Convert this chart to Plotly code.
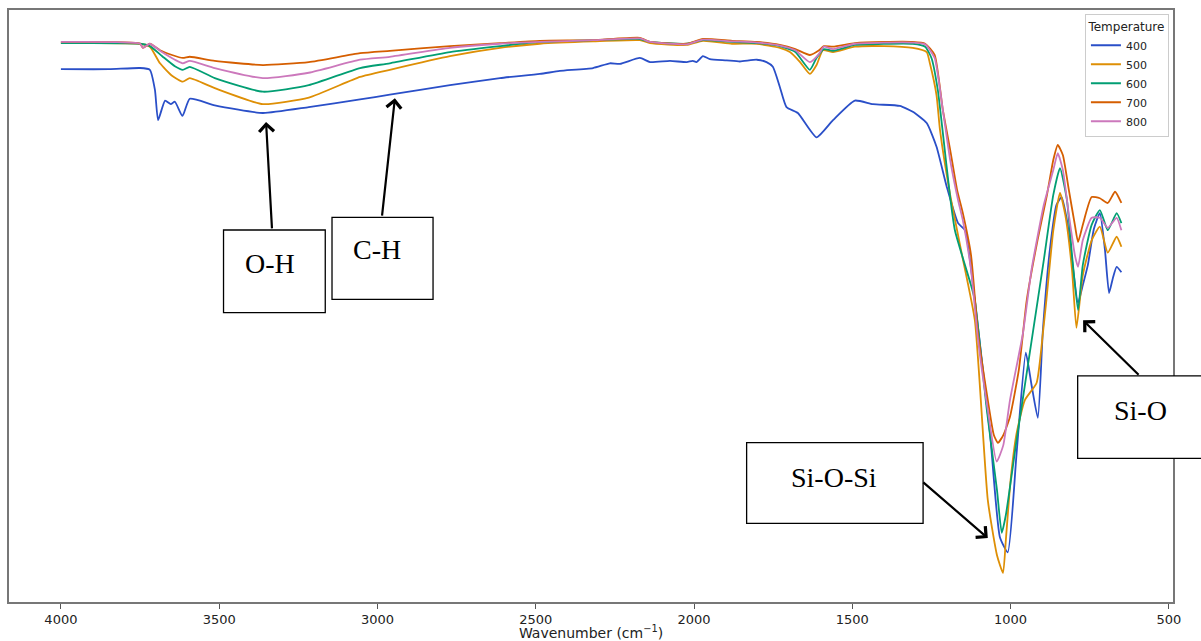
import plotly.graph_objects as go

# ---- data: wavenumber (cm^-1) and transmittance-like values (arbitrary %)
wn_400 = [4000, 3848, 3750, 3719, 3703, 3693, 3671, 3653, 3640, 3616, 3593, 3514, 3362, 3217,
          3055, 2961, 2771, 2613, 2487, 2424, 2319, 2266, 2234, 2171, 2139, 2076, 2023, 2004,
          1992, 1972, 1950, 1897, 1855, 1802, 1771, 1751, 1729, 1708, 1672, 1613, 1561, 1492,
          1435, 1350, 1309, 1265, 1234, 1202, 1166, 1144, 1113, 1065, 1034, 1009, 981, 952,
          934, 914, 898, 876, 855, 839, 822, 806, 787, 772, 756, 737, 718, 702, 689, 677, 665, 650]
t_400 = [90.0, 90.0, 90.2, 89.9, 86.5, 81.4, 84.7, 84.1, 84.5, 82.1, 85.0, 83.9, 82.6, 83.6,
         84.9, 85.7, 87.3, 88.5, 89.2, 89.7, 90.2, 91.0, 90.9, 91.9, 91.2, 91.4, 91.2, 91.4,
         91.2, 92.2, 91.7, 91.5, 91.3, 91.6, 91.2, 90.4, 87.0, 83.6, 82.6, 78.5, 81.4, 84.7,
         84.1, 83.8, 82.8, 80.9, 76.9, 70.2, 64.0, 62.8, 51.0, 28.5, 11.0, 8.4, 25.2, 42.1,
         36.7, 31.1, 45.9, 59.5, 67.1, 68.4, 64.5, 57.8, 50.5, 53.5, 56.9, 63.0, 65.7, 59.5,
         52.2, 54.7, 56.6, 55.7]

wn_500 = [4000, 3750, 3719, 3687, 3649, 3615, 3593, 3514, 3362, 3217, 3055, 2961, 2771, 2613,
          2487, 2319, 2171, 2139, 2023, 1972, 1880, 1802, 1729, 1697, 1665, 1634, 1613, 1593,
          1561, 1492, 1400, 1309, 1265, 1255, 1234, 1223, 1191, 1155, 1113, 1072, 1043, 1024,
          1015, 1000, 981, 955, 918, 898, 887, 865, 844, 827, 806, 792, 772, 744, 718, 693, 665, 650]
t_500 = [94.4, 94.3, 93.8, 91.0, 88.9, 87.9, 88.5, 86.8, 84.1, 85.2, 88.7, 89.9, 92.2, 93.6,
         94.3, 94.7, 94.9, 94.4, 94.1, 94.8, 94.3, 94.3, 93.6, 92.9, 91.2, 89.2, 90.7, 93.2,
         92.9, 93.8, 93.9, 93.6, 92.9, 91.0, 85.6, 79.7, 68.8, 59.0, 47.6, 17.2, 7.9, 4.9,
         10.5, 20.6, 28.5, 34.1, 37.0, 45.4, 51.0, 62.8, 69.1, 65.3, 56.1, 46.3, 55.2, 61.1,
         63.4, 59.0, 61.7, 60.0]

wn_600 = [4000, 3750, 3719, 3680, 3640, 3615, 3593, 3514, 3362, 3217, 3055, 2961, 2771, 2613,
          2487, 2319, 2171, 2139, 2023, 1972, 1880, 1802, 1729, 1680, 1634, 1613, 1590, 1561,
          1492, 1400, 1309, 1270, 1250, 1230, 1215, 1191, 1176, 1125, 1113, 1075, 1043, 1028,
          1015, 981, 930, 895, 865, 844, 822, 806, 787, 772, 744, 718, 693, 665, 650]
t_600 = [94.4, 94.3, 93.9, 92.2, 90.5, 89.9, 90.4, 88.5, 86.2, 87.3, 90.2, 91.0, 92.9, 93.9,
         94.6, 94.9, 95.1, 94.6, 94.3, 94.9, 94.6, 94.4, 93.9, 92.9, 89.9, 91.9, 93.4, 93.1,
         94.1, 94.3, 94.3, 93.8, 91.9, 86.5, 79.7, 68.4, 62.8, 53.5, 51.0, 32.4, 18.9, 11.7,
         14.7, 27.4, 45.4, 57.8, 68.8, 73.3, 67.9, 58.6, 49.3, 56.9, 63.7, 66.2, 62.8, 65.7, 64.0]

wn_700 = [4000, 3750, 3741, 3719, 3687, 3649, 3615, 3593, 3514, 3362, 3217, 3055, 2961, 2771,
          2613, 2487, 2319, 2171, 2139, 2023, 1972, 1880, 1802, 1729, 1680, 1634, 1605, 1590,
          1561, 1492, 1400, 1309, 1270, 1240, 1214, 1191, 1169, 1151, 1125, 1103, 1072, 1053,
          1040, 1023, 1002, 974, 949, 915, 885, 865, 851, 835, 816, 797, 787, 772, 744, 718,
          693, 670, 650]
t_700 = [94.6, 94.3, 93.6, 94.3, 93.2, 92.4, 91.9, 92.1, 91.4, 90.7, 91.2, 92.7, 93.1, 93.9,
         94.4, 94.8, 94.9, 95.3, 94.6, 94.3, 95.1, 94.8, 94.6, 94.1, 93.4, 92.4, 93.2, 93.9,
         93.8, 94.4, 94.6, 94.6, 94.3, 92.4, 83.1, 76.4, 69.6, 65.7, 58.6, 45.4, 34.1, 28.2,
         26.9, 28.2, 31.3, 39.2, 51.0, 61.1, 68.8, 74.7, 77.2, 75.5, 69.6, 63.7, 60.8, 63.7,
         68.4, 68.2, 67.4, 69.3, 67.4]

wn_800 = [4000, 3750, 3741, 3719, 3681, 3640, 3615, 3593, 3514, 3362, 3217, 3055, 2961, 2771,
          2613, 2487, 2319, 2171, 2139, 2023, 1972, 1880, 1802, 1729, 1680, 1634, 1605, 1590,
          1561, 1492, 1400, 1309, 1270, 1240, 1214, 1191, 1166, 1151, 1125, 1103, 1072, 1044,
          1023, 1002, 961, 934, 895, 865, 851, 835, 816, 797, 787, 772, 744, 718, 693, 665, 650]
t_800 = [94.6, 94.3, 93.6, 94.3, 92.9, 91.6, 91.0, 91.4, 90.2, 88.5, 89.4, 91.6, 92.1, 93.6,
         94.3, 94.6, 94.9, 95.2, 94.6, 94.2, 95.0, 94.7, 94.5, 94.0, 93.2, 91.2, 92.6, 93.8,
         93.4, 94.3, 94.5, 94.5, 94.2, 91.9, 83.1, 74.7, 67.9, 64.5, 56.1, 44.3, 32.4, 23.7,
         26.5, 34.1, 45.4, 56.1, 67.1, 73.0, 75.8, 73.0, 65.4, 58.6, 56.6, 61.1, 64.9, 64.9,
         63.2, 64.9, 62.8]

temperatures = ["400", "500", "600", "700", "800"]
series_wn = [wn_400, wn_500, wn_600, wn_700, wn_800]
series_t = [t_400, t_500, t_600, t_700, t_800]
colors = ["#2a4fc8", "#de8f05", "#029e73", "#d55e00", "#cc78bc"]

x_ticks = [4000, 3500, 3000, 2500, 2000, 1500, 1000, 500]

# annotation labels: (text, arrow tip wavenumber, arrow tip value)
labels = ["O-H", "C-H", "Si-O-Si", "Si-O"]
tip_wn = [3352, 2945, 1072, 771]
tip_t = [81.1, 85.1, 10.8, 47.6]

fig = go.Figure()
for name, xs, ys, c in zip(temperatures, series_wn, series_t, colors):
    fig.add_trace(go.Scatter(x=xs, y=ys, mode="lines", name=name,
                             line=dict(color=c, width=1.8, shape="spline", smoothing=0.5)))

axis_font = "'DejaVu Sans', Lato, sans-serif"
fig.update_layout(
    width=1201, height=641,
    margin=dict(l=9, r=28, t=10, b=39),
    paper_bgcolor="white", plot_bgcolor="white",
    showlegend=True,
    legend=dict(
        title=dict(text="Temperature", side="top center",
                   font=dict(size=12, family=axis_font, color="#222")),
        font=dict(size=11, family=axis_font, color="#222"),
        x=0.9965, y=0.993, xanchor="right", yanchor="top",
        bgcolor="white", bordercolor="#cccccc", borderwidth=1,
        itemwidth=30, tracegroupgap=0,
    ),
    xaxis=dict(
        range=[4164, 487], tickvals=x_ticks,
        ticks="outside", ticklen=5, tickcolor="#555", tickwidth=1,
        showline=True, linecolor="#777", linewidth=1.5, mirror=True,
        showgrid=False, zeroline=False, automargin=False,
        tickfont=dict(size=13, family=axis_font, color="#222"),
        title=dict(text="Wavenumber (cm<sup>−1</sup>)", standoff=2,
                   font=dict(size=14, family=axis_font, color="#222")),
    ),
    yaxis=dict(
        range=[0, 100], showticklabels=False, ticks="",
        showline=True, linecolor="#777", linewidth=1.5, mirror=True,
        showgrid=False, zeroline=False, automargin=False,
    ),
)

# boxes (paper coordinates: x0, y0, x1, y1, text x, text y, closed on the right?)
boxes = [
    (0.1843, 0.4887, 0.2717, 0.6284, 0.2244, 0.5726, True),
    (0.2775, 0.5113, 0.3643, 0.6498, 0.3162, 0.5946, True),
    (0.6337, 0.1329, 0.7853, 0.2691, 0.7085, 0.2095, True),
    (0.9181, 0.2427, 1.0600, 0.3818, 0.9725, 0.3243, False),
]
tails = [(6, 108), (-13, 119), (-66, -57), (57, 56)]

for lab, (x0, y0, x1, y1, tx, ty, closed), wx, wy, (ax, ay) in zip(labels, boxes, tip_wn, tip_t, tails):
    if closed:
        fig.add_shape(type="rect", xref="paper", yref="paper", x0=x0, y0=y0, x1=x1, y1=y1,
                      line=dict(color="black", width=1.3), fillcolor="white", layer="above")
    else:
        # box runs off the right edge of the picture: only three sides are drawn
        fig.add_shape(type="path", xref="paper", yref="paper",
                      path=f"M {x1},{y1} L {x0},{y1} L {x0},{y0} L {x1},{y0}",
                      line=dict(color="black", width=1.3), fillcolor="white", layer="above")
    fig.add_annotation(xref="paper", yref="paper", x=tx, y=ty, text=lab, showarrow=False,
                       xanchor="center", yanchor="middle",
                       font=dict(family="Liberation Serif, 'Times New Roman', serif", size=28,
                                 color="black"))
    fig.add_annotation(xref="x", yref="y", x=wx, y=wy, ax=ax, ay=ay, text="",
                       showarrow=True, arrowhead=4, arrowsize=1.3, arrowwidth=2.2,
                       arrowcolor="black")

# remove the browser's default 8px page margin so the figure fills the window exactly
fig.write_html("out.html", config={"displayModeBar": False},
               post_script="document.body.style.margin='0';document.body.style.overflow='hidden';")
